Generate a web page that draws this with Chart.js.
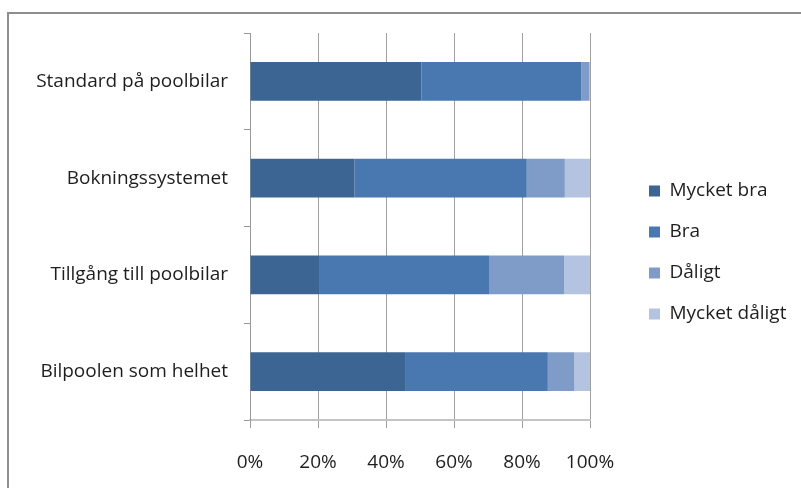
<!DOCTYPE html>
<html>
<head>
<meta charset="utf-8">
<script src="https://cdn.jsdelivr.net/npm/chart.js@4/dist/chart.umd.min.js"></script>
<style>
html, body { margin: 0; padding: 0; background: #fff; overflow: hidden; }
#wrap { position: relative; width: 801px; height: 488px; }
#frame { position: absolute; left: 7px; top: 12px; width: 820px; height: 500px; border: 2px solid #8e8e8e; }
#chart { position: absolute; left: 0; top: 0; }
</style>
</head>
<body>
<div id="wrap">
  <div id="frame"></div>
  <canvas id="chart" width="801" height="488"></canvas>
</div>
<script>
var categories = ['Standard på poolbilar', 'Bokningssystemet', 'Tillgång till poolbilar', 'Bilpoolen som helhet'];
var mycketBra = [50.4, 30.7, 20.3, 45.6];
var bra = [47.0, 50.7, 50.0, 42.0];
var daligt = [2.3, 11.2, 22.1, 7.7];
var mycketDaligt = [0.3, 7.4, 7.6, 4.7];
var xTicks = [0, 20, 40, 60, 80, 100];

var font = "'Open Sans', Lato, sans-serif";
var textColor = '#1e1e1e';

function series(label, data, color) {
    return {
        label: label,
        data: data,
        backgroundColor: color,
        borderWidth: 0,
        barPercentage: 0.4,
        categoryPercentage: 1.0
    };
}

// keep the legend column a fixed width and push its items away from the plot
var legendPlacement = {
    id: 'legendPlacement',
    afterInit: function (chart) {
        var legend = chart.legend;
        var fit = legend.fit;
        legend.fit = function () {
            fit.call(this);
            this.width = 203;
        };
    },
    afterLayout: function (chart) {
        chart.legend.left += 37;
    }
};

new Chart(document.getElementById('chart'), {
    type: 'bar',
    data: {
        labels: categories,
        datasets: [
            series('Mycket bra', mycketBra, '#3d6594'),
            series('Bra', bra, '#4978b0'),
            series('Dåligt', daligt, '#7f9cc8'),
            series('Mycket dåligt', mycketDaligt, '#b4c3df')
        ]
    },
    plugins: [legendPlacement],
    options: {
        indexAxis: 'y',
        responsive: false,
        animation: false,
        layout: { padding: { top: 33, right: 8, bottom: 16, left: 0 } },
        plugins: {
            tooltip: { enabled: false },
            legend: {
                position: 'right',
                labels: {
                    boxWidth: 11,
                    boxHeight: 11,
                    padding: 22,
                    color: textColor,
                    font: { family: font, size: 19 }
                }
            }
        },
        scales: {
            x: {
                stacked: true,
                min: 0,
                max: 100,
                afterBuildTicks: function (scale) {
                    scale.ticks = xTicks.map(function (v) { return { value: v }; });
                },
                afterFit: function (scale) { scale.height = 52; },
                ticks: {
                    padding: 23,
                    color: textColor,
                    font: { family: font, size: 19 },
                    callback: function (v) { return v + '%'; }
                },
                grid: { color: '#a0a0a0', lineWidth: 1, tickLength: 8 },
                border: { color: '#c4c4c4', width: 2 }
            },
            y: {
                stacked: true,
                afterFit: function (scale) { scale.width = 250; },
                ticks: {
                    padding: 16,
                    color: textColor,
                    font: { family: font, size: 19 }
                },
                grid: { offset: true, drawOnChartArea: false, color: '#999', tickLength: 6 },
                border: { color: '#999', width: 1 }
            }
        }
    }
});
</script>
</body>
</html>
